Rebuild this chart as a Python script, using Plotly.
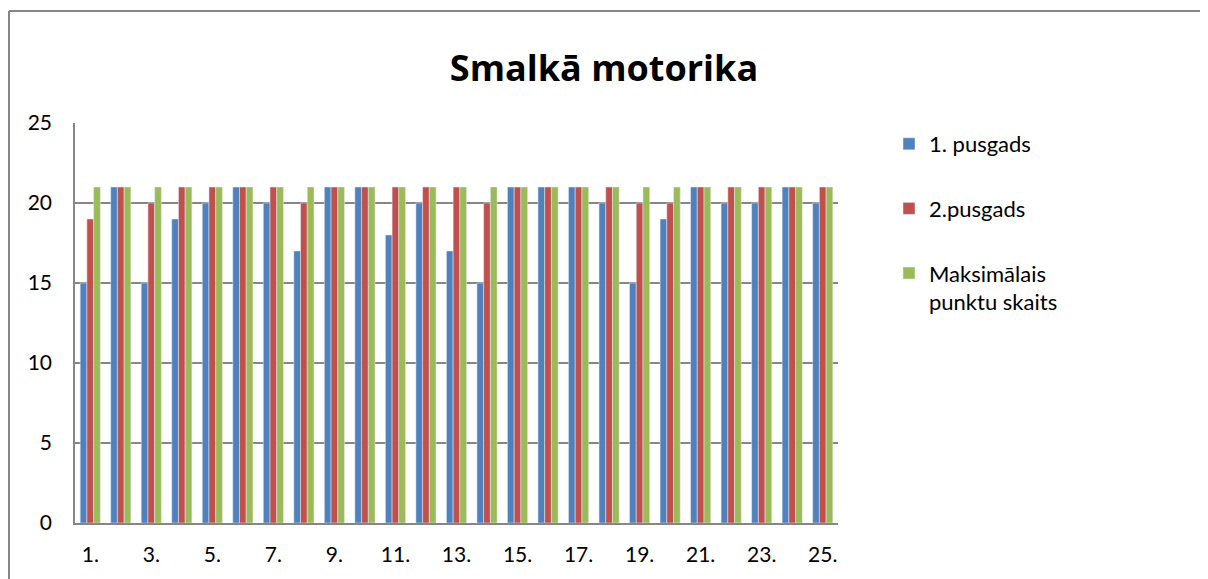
import plotly.graph_objects as go

# Data
categories = [f"{i}." for i in range(1, 26)]
pusgads_1 = [15, 21, 15, 19, 20, 21, 20, 17, 21, 21, 18, 20, 17, 15, 21, 21, 21, 20, 15, 19, 21, 20, 20, 21, 20]
pusgads_2 = [19, 21, 20, 21, 21, 21, 21, 20, 21, 21, 21, 21, 21, 20, 21, 21, 21, 21, 20, 20, 21, 21, 21, 21, 21]
maksimalais = [21] * 25
tick_labels = categories[::2]

font_name = "Lato, Liberation Sans, sans-serif"

data = [
    go.Bar(x=categories, y=pusgads_1, name="1. pusgads", marker_color="#4F81BD",
           legendgroup="a"),
    go.Bar(x=categories, y=pusgads_2, name="2.pusgads", marker_color="#C0504D",
           legendgroup="b"),
    go.Bar(x=categories, y=maksimalais, name="Maksimālais<br>punktu skaits",
           marker_color="#9BBB59", legendgroup="c"),
]

# page body adds an 8px offset, so the figure is 8px smaller than the window
W, H = 1200, 571
L, R, T, B = 67, 370, 115, 56
pw, ph = W - L - R, H - T - B

layout = go.Layout(
    width=W, height=H,
    paper_bgcolor="white", plot_bgcolor="white",
    margin=dict(l=L, r=R, t=T, b=B),
    font=dict(family=font_name, size=21, color="black"),
    title=dict(text="<b>Smalkā motorika</b>", x=596 / W, xref="container",
               y=1 - 60 / H, yref="container", xanchor="center", yanchor="middle",
               font=dict(size=36, family="Open Sans, sans-serif")),
    barmode="group", bargap=0.34, bargroupgap=0,
    xaxis=dict(tickvals=tick_labels, ticktext=tick_labels, showline=True,
               linecolor="#868686", linewidth=1.5, ticks="", ticklabelstandoff=12,
               showgrid=False, tickfont=dict(size=21)),
    yaxis=dict(range=[0, 25], dtick=5, showline=True, linecolor="#868686", linewidth=1.5,
               showgrid=True, gridcolor="#868686", gridwidth=1.5, ticks="",
               ticklabelstandoff=17, zeroline=False, tickfont=dict(size=21)),
    legend=dict(x=(881 - L) / pw, y=1.0, xanchor="left", yanchor="top",
                traceorder="grouped", tracegroupgap=33, valign="top",
                font=dict(size=22)),
    shapes=[
        dict(type="line", xref="paper", yref="paper",
             x0=(1 - L) / pw, x1=(1 - L) / pw, y0=-0.2, y1=(ph + T - 3) / ph,
             line=dict(color="#868686", width=2)),
        dict(type="line", xref="paper", yref="paper",
             x0=(1 - L) / pw, x1=1.6, y0=(ph + T - 3) / ph, y1=(ph + T - 3) / ph,
             line=dict(color="#868686", width=2)),
    ],
)

fig = go.Figure(data=data, layout=layout)
fig.write_html("out.html")
